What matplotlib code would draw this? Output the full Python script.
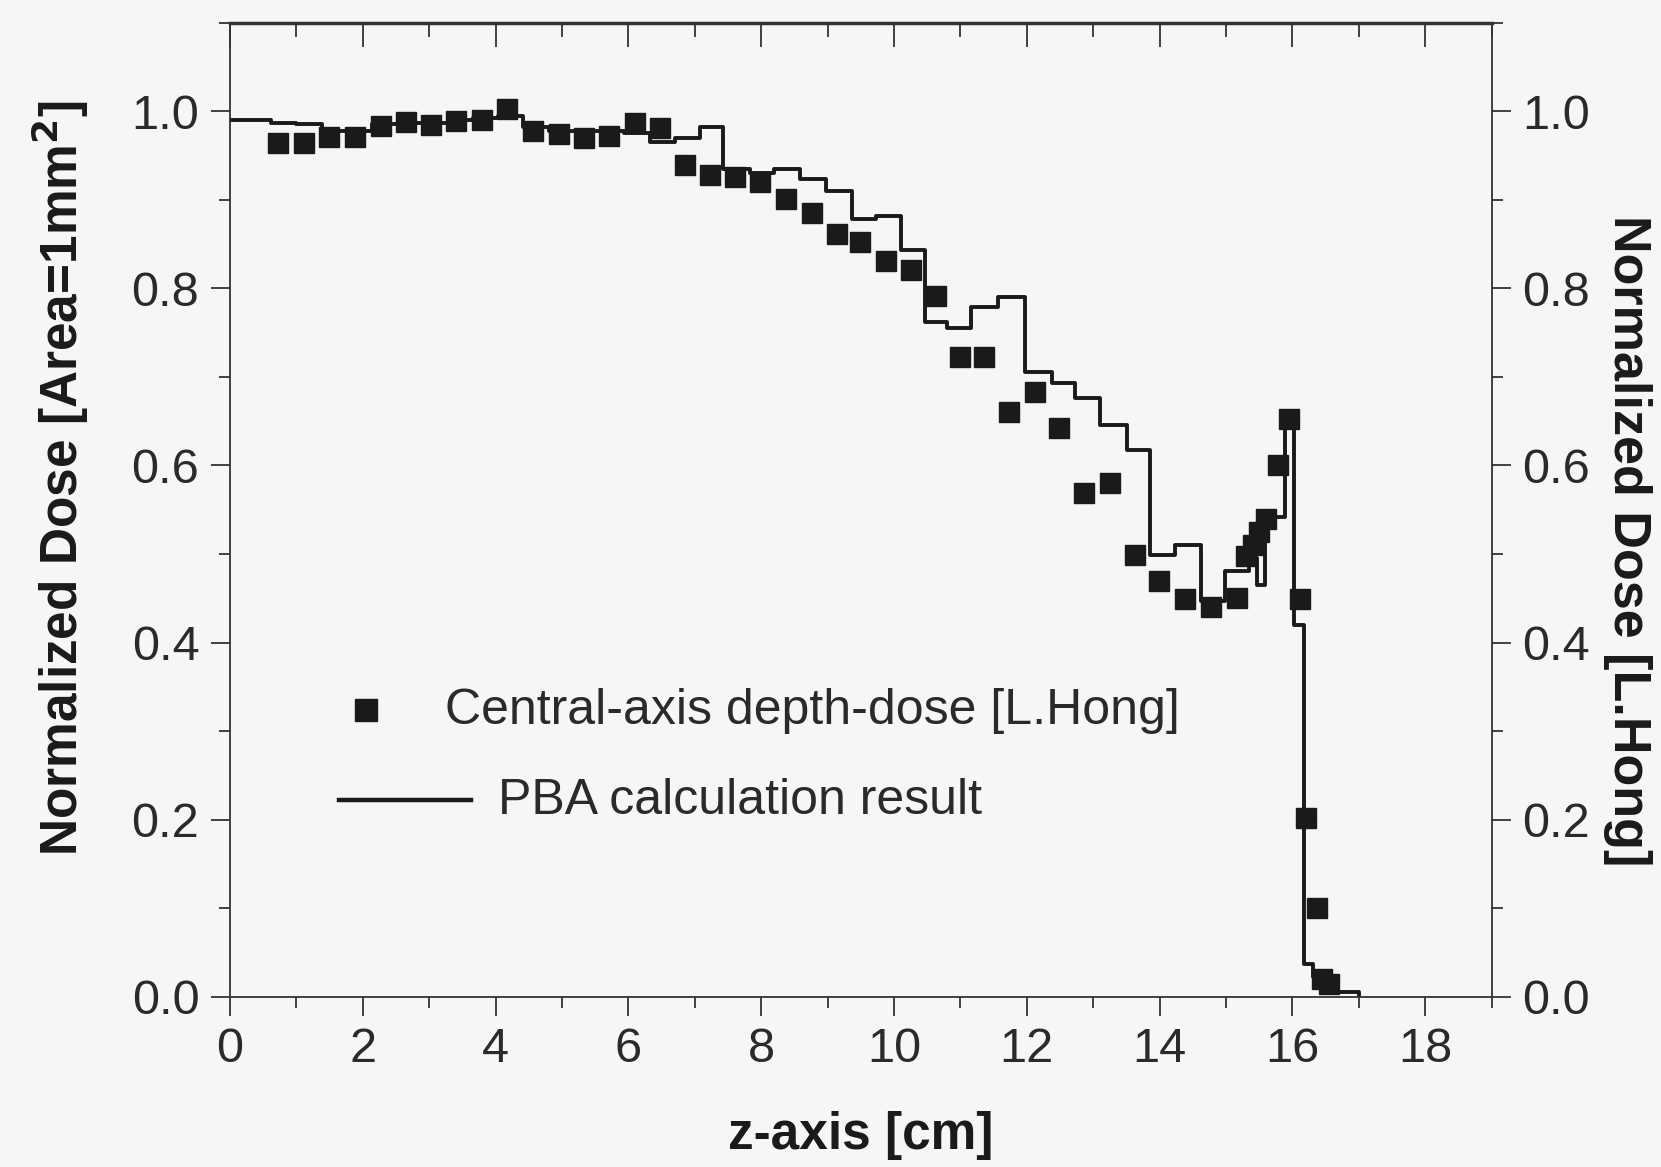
import numpy as np
import matplotlib
matplotlib.use("Agg")
import matplotlib.pyplot as plt
from matplotlib.ticker import MultipleLocator

plt.rcParams['font.family'] = ['Liberation Sans', 'DejaVu Sans']

# measured central-axis depth dose (squares)
z_meas = [0.73, 1.12, 1.50, 1.88, 2.27, 2.65, 3.03, 3.41, 3.80, 4.18,
          4.56, 4.95, 5.33, 5.71, 6.10, 6.48, 6.85, 7.23, 7.61, 7.99,
          8.38, 8.76, 9.14, 9.49, 9.88, 10.26, 10.63, 11.00, 11.36, 11.74,
          12.13, 12.49, 12.86, 13.26, 13.63, 13.99, 14.38, 14.78, 15.16, 15.30,
          15.40, 15.50, 15.60, 15.79, 15.95, 16.12, 16.21, 16.37, 16.45, 16.55]
d_meas = [0.964, 0.964, 0.971, 0.971, 0.983, 0.988, 0.984, 0.989, 0.990, 1.002,
          0.978, 0.974, 0.970, 0.972, 0.987, 0.981, 0.939, 0.928, 0.926, 0.920,
          0.901, 0.885, 0.861, 0.852, 0.831, 0.821, 0.791, 0.722, 0.722, 0.660,
          0.683, 0.642, 0.569, 0.580, 0.499, 0.469, 0.449, 0.440, 0.450, 0.498,
          0.510, 0.525, 0.540, 0.600, 0.652, 0.449, 0.202, 0.100, 0.020, 0.015]

# PBA calculation (step histogram, left bin edges)
z_pba = [0.00, 0.24, 0.62, 1.00, 1.38, 1.76, 2.14, 2.52, 2.90, 3.28,
         3.66, 4.04, 4.42, 4.80, 5.18, 5.56, 5.94, 6.32, 6.70, 7.08,
         7.43, 7.83, 8.19, 8.59, 8.98, 9.37, 9.73, 10.10, 10.47, 10.80,
         11.16, 11.56, 11.97, 12.38, 12.73, 13.11, 13.51, 13.86, 14.24, 14.62,
         14.98, 15.34, 15.47, 15.59, 15.89, 16.02, 16.17, 16.31, 16.62, 17.00]
d_pba = [0.990, 0.990, 0.987, 0.985, 0.978, 0.978, 0.985, 0.987, 0.987, 0.990,
         0.992, 0.995, 0.982, 0.978, 0.978, 0.978, 0.975, 0.965, 0.970, 0.982,
         0.935, 0.930, 0.935, 0.924, 0.910, 0.878, 0.882, 0.843, 0.762, 0.755,
         0.779, 0.790, 0.706, 0.693, 0.676, 0.646, 0.617, 0.499, 0.510, 0.447,
         0.481, 0.495, 0.465, 0.542, 0.652, 0.420, 0.037, 0.022, 0.005, 0.000]

bg = '#f6f5f7'
ink = '#1a1a1a'
fig = plt.figure(figsize=(16.61, 11.67), dpi=100, facecolor=bg)
ax = fig.add_axes([0.1384, 0.1458, 0.898 - 0.1384, 0.9806 - 0.1458])
ax.set_facecolor(bg)

ax.plot(z_pba, d_pba, drawstyle='steps-post', color=ink, lw=2.8)
ax.plot(z_meas, d_meas, 's', color=ink, ms=15, mec=ink)

ax.set_xlim(0, 19)
ax.set_ylim(0, 1.1)
ax.xaxis.set_major_locator(MultipleLocator(2))
ax.xaxis.set_minor_locator(MultipleLocator(1))
ax.yaxis.set_major_locator(MultipleLocator(0.2))
ax.yaxis.set_minor_locator(MultipleLocator(0.1))
ax.set_yticks([0, 0.2, 0.4, 0.6, 0.8, 1.0])
ax.set_yticklabels(['0.0', '0.2', '0.4', '0.6', '0.8', '1.0'])

for s in ax.spines.values():
    s.set_linewidth(1.3)
    s.set_color('#333333')

ax.tick_params(axis='both', which='major', direction='out', length=14, width=1.3,
               color='#333333', labelsize=35, labelcolor='#2a2a2a', pad=8)
ax.tick_params(axis='both', which='minor', direction='out', length=8, width=1.3,
               color='#333333')
ax.tick_params(axis='y', which='both', left=True, right=True, labelleft=True, labelright=True)
ax.tick_params(axis='x', which='both', top=False)

# top axis: inward ticks, no labels
top = ax.secondary_xaxis('top')
top.xaxis.set_major_locator(MultipleLocator(2))
top.xaxis.set_minor_locator(MultipleLocator(1))
top.tick_params(which='major', direction='in', length=17, width=1.3, color='#333333', labeltop=False)
top.tick_params(which='minor', direction='in', length=10, width=1.3, color='#333333')
top.spines['top'].set_linewidth(2.5)
top.spines['top'].set_color('#333333')

# labels
fig.text(0.518, 0.027, 'z-axis [cm]', ha='center', va='center', fontsize=37,
         fontweight='bold', color=ink)
fig.text(0.0364, 0.590, 'Normalized Dose [Area=1mm$^\\mathbf{2}$]', ha='center', va='center',
         rotation=90, fontsize=37, fontweight='bold', color=ink)
fig.text(0.9796, 0.537, 'Normalized Dose [L.Hong]', ha='center', va='center',
         rotation=270, fontsize=37.5, fontweight='bold', color=ink)

# legend
ax.plot([0.1075], [0.2947], 's', color=ink, ms=16, transform=ax.transAxes, clip_on=False)
ax.text(0.1704, 0.2935, 'Central-axis depth-dose [L.Hong]', transform=ax.transAxes,
        ha='left', va='center', fontsize=36, color='#2a2a2a')
ax.plot([0.0865, 0.1914], [0.2023, 0.2023], '-', color=ink, lw=3.2, transform=ax.transAxes)
ax.text(0.2124, 0.2010, 'PBA calculation result', transform=ax.transAxes,
        ha='left', va='center', fontsize=36, color='#2a2a2a')

fig.savefig('out.png', dpi=100, facecolor=bg)
